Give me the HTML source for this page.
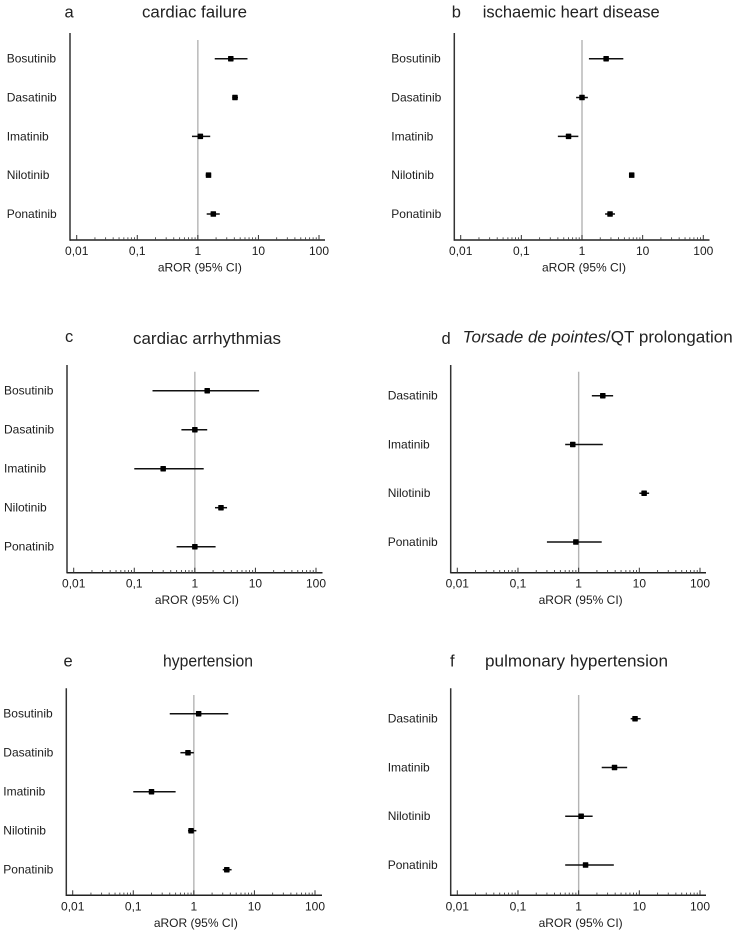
<!DOCTYPE html>
<html lang="en">
<head>
<meta charset="utf-8">
<title>Forest plots of aROR for tyrosine kinase inhibitors</title>
<style>
html,body{margin:0;padding:0;background:#fff;width:737px;height:933px;overflow:hidden}
svg{display:block}
#root{filter:blur(0.35px)}
text{font-family:"Liberation Sans",Arial,sans-serif;fill:#1c1c1c;font-size:12px}
.title{font-size:16.5px;fill:#222}
</style>
</head>
<body>
<svg id="chart" width="737" height="933" viewBox="0 0 737 933" xmlns="http://www.w3.org/2000/svg">
<g id="root"></g>
</svg>
<script>
// ---- data ----
const categoriesABCE = ["Bosutinib", "Dasatinib", "Imatinib", "Nilotinib", "Ponatinib"];
const categoriesDF = ["Dasatinib", "Imatinib", "Nilotinib", "Ponatinib"];

const estimateA = [3.5, 4.1, 1.1, 1.5, 1.8];
const lowerA = [1.9, 3.7, 0.8, 1.35, 1.4];
const upperA = [6.6, 4.6, 1.6, 1.65, 2.3];

const estimateB = [2.5, 1.0, 0.6, 6.6, 2.9];
const lowerB = [1.3, 0.8, 0.4, 6.2, 2.4];
const upperB = [4.8, 1.25, 0.87, 7.0, 3.5];

const estimateC = [1.6, 1.0, 0.3, 2.7, 1.0];
const lowerC = [0.2, 0.6, 0.1, 2.15, 0.5];
const upperC = [11.5, 1.6, 1.4, 3.4, 2.2];

const estimateD = [2.5, 0.8, 12, 0.9];
const lowerD = [1.65, 0.6, 10, 0.3];
const upperD = [3.7, 2.5, 14.5, 2.4];

const estimateE = [1.2, 0.8, 0.2, 0.9, 3.5];
const lowerE = [0.4, 0.6, 0.1, 0.8, 3.0];
const upperE = [3.7, 1.0, 0.5, 1.1, 4.2];

const estimateF = [8.5, 3.9, 1.1, 1.3];
const lowerF = [7.2, 2.4, 0.6, 0.6];
const upperF = [10.5, 6.3, 1.7, 3.8];

const tickValues = [0.01, 0.1, 1, 10, 100];
const tickLabels = ["0,01", "0,1", "1", "10", "100"];
const axisTitle = "aROR (95% CI)";

// ---- panels (layout lives apart from the data) ----
const panels = [
  {id:"a", cats:categoriesABCE, est:estimateA, lo:lowerA, hi:upperA,
   axL:70, axR:325, axT:33, axB:240, refT:40, x0:76.7, x1:319, labelX:6.7, rowT:58.7, rowB:214,
   letterX:64.5, letterY:17.5, titleY:17.5,
   title:[{t:"cardiac failure", x:142, w:105}]},
  {id:"b", cats:categoriesABCE, est:estimateB, lo:lowerB, hi:upperB,
   axL:454.3, axR:709.5, axT:33, axB:240, refT:40, x0:460.7, x1:703.3, labelX:391.3, rowT:58.7, rowB:214,
   letterX:451.7, letterY:17.5, titleY:17.5,
   title:[{t:"ischaemic heart disease", x:482.7, w:177}]},
  {id:"c", cats:categoriesABCE, est:estimateC, lo:lowerC, hi:upperC,
   axL:67, axR:322.5, axT:365, axB:572.7, refT:371.7, x0:73.7, x1:316, labelX:4, rowT:390.7, rowB:546.7,
   letterX:65, letterY:342, titleY:344,
   title:[{t:"cardiac arrhythmias", x:133, w:148}]},
  {id:"d", cats:categoriesDF, est:estimateD, lo:lowerD, hi:upperD,
   axL:450.7, axR:706, axT:365, axB:572.7, refT:371.7, x0:457.3, x1:700, labelX:387.7, rowT:395.7, rowB:542,
   letterX:441.5, letterY:344, titleY:342.7,
   title:[{t:"Torsade de pointes", x:462.7, w:143.5, italic:true}, {t:"/QT prolongation", x:606, w:126.7}]},
  {id:"e", cats:categoriesABCE, est:estimateE, lo:lowerE, hi:upperE,
   axL:66.3, axR:322, axT:688.3, axB:895.3, refT:695, x0:72.7, x1:315, labelX:3.3, rowT:713.7, rowB:869.7,
   letterX:63.5, letterY:666.5, titleY:666.5,
   title:[{t:"hypertension", x:163, w:90}]},
  {id:"f", cats:categoriesDF, est:estimateF, lo:lowerF, hi:upperF,
   axL:450.7, axR:706, axT:688.3, axB:895.3, refT:695, x0:457.3, x1:700, labelX:387.7, rowT:718.7, rowB:865,
   letterX:450, letterY:666.5, titleY:666.5,
   title:[{t:"pulmonary hypertension", x:485, w:183}]}
];

// ---- drawing ----
const NS = "http://www.w3.org/2000/svg";
const root = document.getElementById("root");

function shape(parent, tag, props) {
  const node = document.createElementNS(NS, tag);
  for (const key in props) node.setAttribute(key, props[key]);
  parent.appendChild(node);
  return node;
}
function label(parent, content, props) {
  const node = shape(parent, "text", props);
  node.textContent = content;
  return node;
}

panels.forEach(function (p) {
  const xScale = function (v) {
    return p.x0 + (Math.log10(v) + 2) / 4 * (p.x1 - p.x0);
  };
  const yScale = function (i) {
    return p.rowT + i * (p.rowB - p.rowT) / (p.cats.length - 1);
  };

  const g = shape(root, "g", {});
  
  

  const letter = label(g, p.id, {x: p.letterX, y: p.letterY, class: "title"});
  
  

  p.title.forEach(function (seg) {
    const titleNode = label(g, seg.t, {
      x: seg.x, y: p.titleY, class: "title",
      textLength: seg.w, lengthAdjust: "spacingAndGlyphs",
      "font-style": seg.italic ? "italic" : "normal"
    });
    
    
  });

  // reference line at aROR = 1
  const ref = shape(g, "line", {x1: xScale(1), x2: xScale(1), y1: p.refT, y2: p.axB, stroke: "#b4b4b4", "stroke-width": 1.4});
  
  

  // axes
  const yAxis = shape(g, "line", {x1: p.axL, x2: p.axL, y1: p.axT, y2: p.axB + 0.7, stroke: "#333", "stroke-width": 1.5});
  
  

  const xAxis = shape(g, "line", {x1: p.axL, x2: p.axR, y1: p.axB, y2: p.axB, stroke: "#222", "stroke-width": 1.5});
  
  

  // minor and major ticks
  tickValues.forEach(function (v, ti) {
    const major = shape(g, "line", {x1: xScale(v), x2: xScale(v), y1: p.axB - 5, y2: p.axB, stroke: "#333", "stroke-width": 1});
    
    

    const tickText = label(g, tickLabels[ti], {x: xScale(v), y: p.axB + 15, "text-anchor": "middle"});
    
    

    if (ti < tickValues.length - 1) {
      for (let m = 2; m < 10; m++) {
        const minor = shape(g, "line", {x1: xScale(v * m), x2: xScale(v * m), y1: p.axB - 2.7, y2: p.axB, stroke: "#444", "stroke-width": 0.9});
        
        
      }
    }
  });

  const xTitle = label(g, axisTitle, {x: xScale(1) + 2, y: p.axB + 31.5, "text-anchor": "middle"});
  
  

  // rows
  p.cats.forEach(function (cat, i) {
    const y = yScale(i);
    const rowLabel = label(g, cat, {x: p.labelX, y: y + 4});
    
    

    const whisker = shape(g, "line", {x1: xScale(p.lo[i]), x2: xScale(p.hi[i]), y1: y, y2: y, stroke: "#111", "stroke-width": 1.5});
    
    

    const point = shape(g, "rect", {x: xScale(p.est[i]) - 2.75, y: y - 2.75, width: 5.5, height: 5.5, rx: 0.6, fill: "#000"});
    
    
  });
});
</script>
</body>
</html>
